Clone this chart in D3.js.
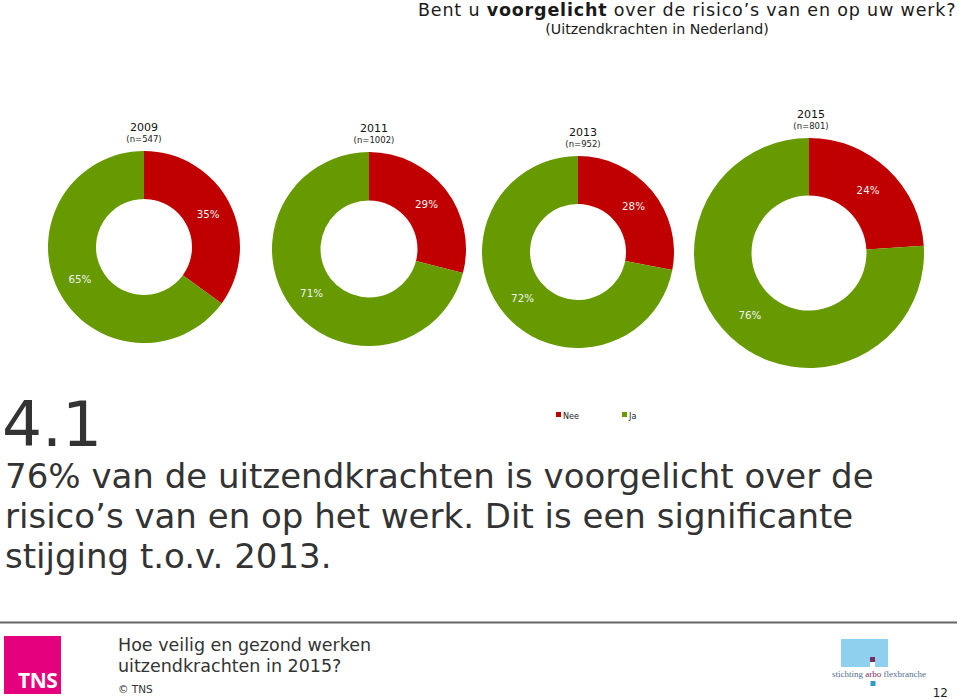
<!DOCTYPE html>
<html>
<head>
<meta charset="utf-8">
<script src="https://cdn.jsdelivr.net/npm/d3@7/dist/d3.min.js"></script>
<style>
  html, body { margin: 0; padding: 0; background: #fff; }
  svg { display: block; }
</style>
</head>
<body>
<svg id="chart" width="959" height="699"></svg>
<script>
// ---- data ----
const years = ["2009", "2011", "2013", "2015"];
const sampleSizes = ["(n=547)", "(n=1002)", "(n=952)", "(n=801)"];
const neeValues = [35, 29, 28, 24];
const jaValues = [65, 71, 72, 76];
const seriesNames = ["Nee", "Ja"];
const summaryLines = [
  "76% van de uitzendkrachten is voorgelicht over de",
  "risico\u2019s van en op het werk. Dit is een significante",
  "stijging t.o.v. 2013."
];
const footerLines = ["Hoe veilig en gezond werken", "uitzendkrachten in 2015?"];

// ---- layout (not data) ----
const layout = [
  { cx: 144, cy: 247, r: 96 },
  { cx: 369, cy: 249, r: 97 },
  { cx: 578, cy: 252, r: 96 },
  { cx: 809, cy: 253, r: 115 }
];
const headerDx = [0, 5, 5, 2];
const colors = d3.scaleOrdinal().domain(seriesNames).range(["#C00000", "#669A00"]);
const font = "'DejaVu Sans', Verdana, sans-serif";

const svg = d3.select("#chart");

// ---- title ----
const title = svg.append("text")
  .attr("x", 418).attr("y", 16)
  .attr("font-family", font).attr("font-size", 17.5).attr("letter-spacing", 0.82)
  .attr("fill", "#1a1a1a");
title.append("tspan").text("Bent u ");
title.append("tspan").attr("font-weight", "bold").text("voorgelicht");
title.append("tspan").text(" over de risico\u2019s van en op uw werk?");

svg.append("text")
  .attr("x", 657).attr("y", 34).attr("text-anchor", "middle")
  .attr("font-family", font).attr("font-size", 14.2).attr("fill", "#1a1a1a")
  .text("(Uitzendkrachten in Nederland)");

// ---- donuts ----
const pie = d3.pie().sort(null).value(d => d.value);

years.forEach((yr, i) => {
  const L = layout[i];
  const data = [
    { key: seriesNames[0], value: neeValues[i] },
    { key: seriesNames[1], value: jaValues[i] }
  ];
  const arc = d3.arc().innerRadius(L.r * 0.5).outerRadius(L.r);
  const g = svg.append("g").attr("transform", `translate(${L.cx},${L.cy})`);
  const arcs = pie(data);
  g.selectAll("path").data(arcs).join("path")
    .attr("d", arc)
    .attr("fill", d => colors(d.data.key));
  g.selectAll("text").data(arcs).join("text")
    .attr("transform", d => `translate(${arc.centroid(d)})`)
    .attr("text-anchor", "middle")
    .attr("dy", "0.35em")
    .attr("font-family", font).attr("font-size", 10.3)
    .attr("fill", "#f4f4f4")
    .text(d => d.data.value + "%");

  const hx = L.cx + headerDx[i];
  const hy = L.cy - L.r - 20;
  svg.append("text")
    .attr("x", hx).attr("y", hy).attr("text-anchor", "middle")
    .attr("font-family", font).attr("font-size", 11).attr("fill", "#111")
    .text(yr);
  svg.append("text")
    .attr("x", hx).attr("y", hy + 11).attr("text-anchor", "middle")
    .attr("font-family", font).attr("font-size", 8.5).attr("fill", "#222")
    .text(sampleSizes[i]);
});

// ---- legend ----
const legX = [556, 622];
seriesNames.forEach((s, i) => {
  svg.append("rect")
    .attr("x", legX[i]).attr("y", 412).attr("width", 5).attr("height", 5)
    .attr("fill", colors(s));
  svg.append("text")
    .attr("x", legX[i] + 7).attr("y", 419)
    .attr("font-family", "'DejaVu Sans Condensed', 'DejaVu Sans', sans-serif")
    .attr("font-size", 9).attr("fill", "#222")
    .text(s);
});

// ---- big number & summary ----
svg.append("text")
  .attr("x", 2).attr("y", 446)
  .attr("font-family", font).attr("font-size", 63).attr("fill", "#333")
  .text("4.1");

summaryLines.forEach((t, i) => {
  svg.append("text")
    .attr("x", 5).attr("y", 488 + i * 40)
    .attr("font-family", font).attr("font-size", 34).attr("fill", "#333")
    .text(t);
});

// ---- footer ----
svg.append("line")
  .attr("x1", 0).attr("x2", 957).attr("y1", 622.5).attr("y2", 622.5)
  .attr("stroke", "#666").attr("stroke-width", 2);

svg.append("rect").attr("x", 4).attr("y", 636).attr("width", 57).attr("height", 58).attr("fill", "#E5007D");
svg.append("text")
  .attr("x", 18).attr("y", 688)
  .attr("font-family", "'Open Sans', 'DejaVu Sans', sans-serif").attr("font-weight", "bold")
  .attr("font-size", 21).attr("fill", "#fff").attr("letter-spacing", -0.5)
  .text("TNS");

footerLines.forEach((t, i) => {
  svg.append("text")
    .attr("x", 118).attr("y", 651 + i * 21)
    .attr("font-family", font).attr("font-size", 17.5).attr("fill", "#333")
    .text(t);
});
svg.append("text")
  .attr("x", 118).attr("y", 693)
  .attr("font-family", font).attr("font-size", 10.5).attr("fill", "#333")
  .text("\u00A9 TNS");

// stichting arbo flexbranche logo
svg.append("rect").attr("x", 841).attr("y", 639).attr("width", 47).attr("height", 28).attr("fill", "#8FD0EF");
svg.append("rect").attr("x", 870).attr("y", 662).attr("width", 5).attr("height", 5).attr("fill", "#fff");
svg.append("rect").attr("x", 870).attr("y", 657).attr("width", 5).attr("height", 5).attr("fill", "#7A2A5E");
const logoText = svg.append("text")
  .attr("x", 879).attr("y", 677).attr("text-anchor", "middle")
  .attr("font-family", "'Liberation Serif', 'DejaVu Serif', serif").attr("font-size", 9)
  .attr("fill", "#4F6F8F");
logoText.append("tspan").text("stichting ");
logoText.append("tspan").attr("fill", "#7A2A5E").text("arbo");
logoText.append("tspan").text(" flexbranche");
svg.append("rect").attr("x", 870.5).attr("y", 681).attr("width", 5).attr("height", 5).attr("fill", "#3399CC");

svg.append("text")
  .attr("x", 948).attr("y", 697).attr("text-anchor", "end")
  .attr("font-family", font).attr("font-size", 12).attr("fill", "#222")
  .text("12");
</script>
</body>
</html>
